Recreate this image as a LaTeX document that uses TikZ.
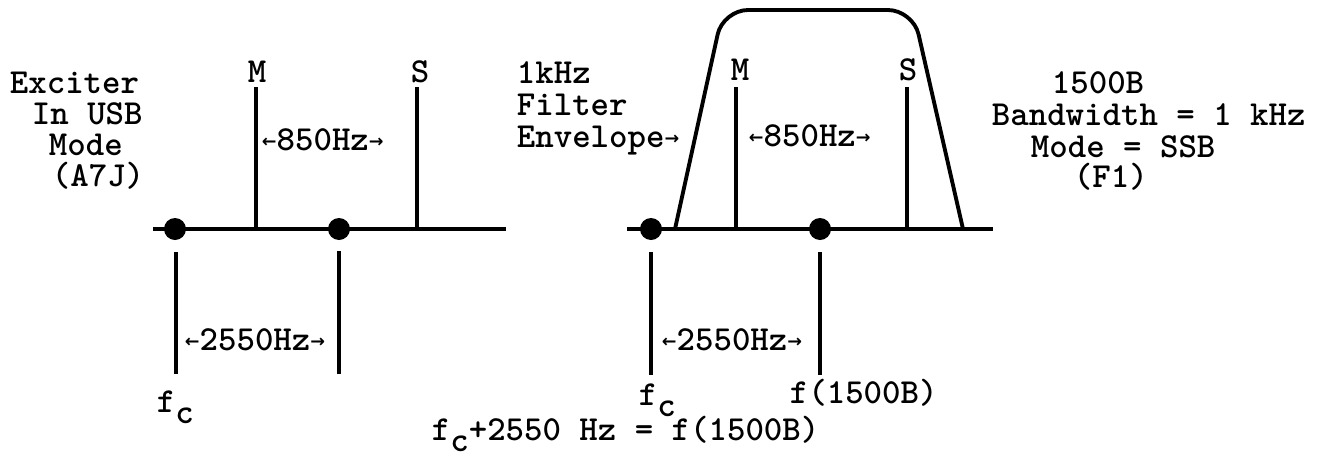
\documentclass[tikz,border=0pt]{standalone}
\usepackage{fontspec}
\usetikzlibrary{arrows.meta}
\newfontfamily\arrowfont{DejaVu Sans}
\newcommand{\larr}{\raisebox{1.5pt}{\arrowfont\bfseries\fontsize{10}{10}\selectfont ←}}
\newcommand{\rarr}{\raisebox{1.5pt}{\arrowfont\bfseries\fontsize{10}{10}\selectfont →}}
\newcommand{\lowsub}[1]{\raisebox{-6.5pt}{#1}}

\begin{document}
\begin{tikzpicture}[x=0.02cm,y=-0.02cm,line width=2.2pt,
    txt/.style={font=\ttfamily\bfseries\fontsize{20}{24}\selectfont,inner sep=0pt,anchor=base west},
    axis/.style={line width=2.7pt},
    carrier/.style={fill=black}]
    \useasboundingbox (0,0) rectangle (1334,457);
    % left spectrum: exciter
    \draw[axis] (153,229)--(506,229);
    \fill[carrier] (175,229) circle (0.22cm);
    \fill[carrier] (339,229) circle (0.22cm);
    \draw (256,229)--(256,87);
    \draw (417,229)--(417,87);
    \draw (176,252)--(176,374);
    \draw (339,251)--(339,374);
    \node[txt,anchor=base] (markL) at (257,82) {M};
    \node[txt,anchor=base] (spaceL) at (420,82) {S};
    \node[txt] (shiftL) at (260,150) {\larr850Hz\rarr};
    \node[txt] (offsetL) at (183,350) {\larr2550Hz\rarr};
    \node[txt] (fcL) at (155,412) {f\lowsub{c}};
    \node[txt] (exc1) at (8,93) {Exciter};
    \node[txt] (exc2) at (30,124) {In USB};
    \node[txt] (exc3) at (47,155) {Mode};
    \node[txt] (exc4) at (50,186) {(A7J)};
    % right spectrum: filter
    \draw[axis] (627,229)--(993,229);
    \fill[carrier] (651,229) circle (0.22cm);
    \fill[carrier] (820,229) circle (0.22cm);
    \draw[rounded corners=0.5cm] (675,229)--(723,10)--(913,10)--(963,229);
    \draw (736,229)--(736,87);
    \draw (907,229)--(907,87);
    \draw (651,252)--(651,375);
    \draw (820,252)--(820,375);
    \node[txt,anchor=base] (markR) at (740,80) {M};
    \node[txt,anchor=base] (spaceR) at (908,80) {S};
    \node[txt] (shiftR) at (747,146) {\larr850Hz\rarr};
    \node[txt] (offsetR) at (660,350) {\larr2550Hz\rarr};
    \node[txt] (fcR) at (637,405) {f\lowsub{c}};
    \node[txt] (f1500) at (788,403) {f(1500B)};
    \node[txt] (env1) at (515,83) {1kHz};
    \node[txt] (env2) at (515,115) {Filter};
    \node[txt] (env3) at (515,147) {Envelope\rarr};
    \node[txt] (sum) at (430,440) {f\lowsub{c}+2550 Hz = f(1500B)};
    \node[txt] (mode1) at (1050,93) {1500B};
    \node[txt] (mode2) at (990,125) {Bandwidth = 1 kHz};
    \node[txt] (mode3) at (1029,157) {Mode = SSB};
    \node[txt] (mode4) at (1072,187) {(F1)};
\end{tikzpicture}
\end{document}
